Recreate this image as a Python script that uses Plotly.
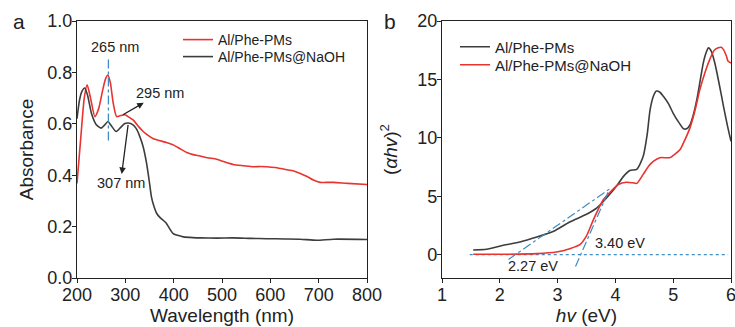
import plotly.graph_objects as go

# ---------- Panel a: UV-vis absorbance ----------
wl_red = [200, 208, 215, 221, 228, 237, 245, 253, 259, 264, 269, 275, 282, 290, 299, 308, 316, 327, 337, 347, 358,
          370, 385, 399, 413, 427, 440, 454, 470, 489, 505, 523, 545, 565, 580, 592, 610, 627, 645, 662, 676, 689, 703,
          715, 731, 760, 800]
abs_red = [0.368, 0.55, 0.70, 0.752, 0.70, 0.628, 0.66, 0.73, 0.775, 0.79, 0.76, 0.68, 0.628, 0.632, 0.635, 0.625,
           0.615, 0.59, 0.57, 0.555, 0.542, 0.535, 0.527, 0.518, 0.503, 0.488, 0.48, 0.475, 0.468, 0.462, 0.452, 0.442,
           0.437, 0.433, 0.434, 0.433, 0.43, 0.424, 0.418, 0.407, 0.395, 0.381, 0.372, 0.372, 0.372, 0.368, 0.364]

wl_blk = [200, 205, 210, 216, 222, 230, 240, 250, 257, 264, 270, 281, 290, 298, 306, 316, 323, 330, 337, 344, 350,
          354, 359, 365, 372, 378, 384, 389, 394, 399, 410, 420, 440, 454, 490, 523, 560, 592, 630, 662, 696, 731, 800]
abs_blk = [0.62, 0.69, 0.725, 0.739, 0.71, 0.64, 0.596, 0.583, 0.595, 0.609, 0.595, 0.57, 0.585, 0.6, 0.603, 0.596,
           0.58, 0.55, 0.51, 0.446, 0.37, 0.316, 0.28, 0.251, 0.235, 0.225, 0.215, 0.2, 0.185, 0.173, 0.165, 0.16,
           0.157, 0.156, 0.155, 0.156, 0.154, 0.153, 0.152, 0.151, 0.147, 0.151, 0.15]

# ---------- Panel b: Tauc plot ----------
hv_blk = [1.54, 1.77, 2.06, 2.35, 2.64, 2.93, 3.21, 3.5, 3.68, 3.85, 4.02, 4.14, 4.25, 4.37, 4.48, 4.55, 4.6, 4.66,
          4.71, 4.77, 4.83, 4.92, 5.0, 5.1, 5.18, 5.24, 5.29, 5.35, 5.41, 5.47, 5.52, 5.57, 5.61, 5.66, 5.72, 5.8,
          5.87, 5.94, 6.0]
ahv_blk = [0.4, 0.46, 0.8, 1.08, 1.5, 2.0, 2.8, 3.45, 4.0, 4.87, 5.87, 6.7, 7.2, 7.3, 8.4, 10.3, 12.4, 13.6, 14.0,
           13.9, 13.55, 12.9, 12.1, 11.3, 10.77, 10.8, 11.1, 12.0, 13.3, 15.0, 16.4, 17.3, 17.7, 17.4, 16.4, 14.5,
           12.7, 11.0, 9.7]

hv_red = [1.54, 2.06, 2.64, 2.98, 3.21, 3.39, 3.5, 3.62, 3.79, 3.91, 4.05, 4.19, 4.3, 4.37, 4.48, 4.58, 4.66, 4.77,
          4.94, 5.03, 5.12, 5.2, 5.29, 5.38, 5.46, 5.55, 5.64, 5.71, 5.78, 5.83, 5.87, 5.92, 5.95, 6.0]
ahv_red = [0.03, 0.03, 0.09, 0.23, 0.51, 0.88, 1.6, 3.0, 4.7, 5.35, 6.0, 6.2, 6.15, 6.1, 6.87, 7.6, 8.0, 8.3, 8.3,
           8.6, 9.0, 9.8, 10.85, 12.4, 14.1, 15.6, 16.8, 17.5, 17.7, 17.75, 17.55, 17.0, 16.55, 16.4]

tan1_x = [2.15, 3.9]
tan2_x = [3.31, 3.88]
eg1, slope1 = 2.27, 3.45
eg2, slope2 = 3.40, 11.3
base_x = [1.48, 5.95]
base_y = [0, 0]

RED = "#e8332f"
BLK = "#3d3d3d"
BLUE = "#3f8cc6"
FONT = "Liberation Sans, Arial, sans-serif"

W, H = 735, 327
ML, MR, MT, MB = 77, 4, 21, 49
PW, PH = W - ML - MR, H - MT - MB


def px_x(p):
    return (p - ML) / PW


def px_y(p):
    return 1 - (p - MT) / PH


fig = go.Figure()

fig.add_trace(go.Scatter(x=wl_red, y=abs_red, mode="lines", name="Al/Phe-PMs",
                         line=dict(color=RED, width=1.6, shape="spline", smoothing=0.6),
                         xaxis="x", yaxis="y", legend="legend"))
fig.add_trace(go.Scatter(x=wl_blk, y=abs_blk, mode="lines", name="Al/Phe-PMs@NaOH",
                         line=dict(color=BLK, width=1.6, shape="spline", smoothing=0.6),
                         xaxis="x", yaxis="y", legend="legend2"))
fig.add_trace(go.Scatter(x=[265, 265], y=[0.85, 0.53], mode="lines", showlegend=False,
                         line=dict(color=BLUE, width=1.3, dash="dashdot"), xaxis="x", yaxis="y"))

fig.add_trace(go.Scatter(x=base_x, y=base_y, mode="lines", showlegend=False,
                         line=dict(color=BLUE, width=1.3, dash="dot"), xaxis="x2", yaxis="y2"))
fig.add_trace(go.Scatter(x=hv_blk, y=ahv_blk, mode="lines", name="Al/Phe-PMs",
                         line=dict(color=BLK, width=1.6, shape="spline", smoothing=0.6),
                         xaxis="x2", yaxis="y2", legend="legend3"))
fig.add_trace(go.Scatter(x=hv_red, y=ahv_red, mode="lines", name="Al/Phe-PMs@NaOH",
                         line=dict(color=RED, width=1.6, shape="spline", smoothing=0.6),
                         xaxis="x2", yaxis="y2", legend="legend4"))
fig.add_trace(go.Scatter(x=tan1_x, y=[slope1 * (v - eg1) for v in tan1_x], mode="lines", showlegend=False,
                         line=dict(color=BLUE, width=1.2, dash="dashdot"), xaxis="x2", yaxis="y2"))
fig.add_trace(go.Scatter(x=tan2_x, y=[slope2 * (v - eg2) for v in tan2_x], mode="lines", showlegend=False,
                         line=dict(color=BLUE, width=1.2, dash="dashdot"), xaxis="x2", yaxis="y2"))

axis_common = dict(showline=True, linecolor="#222", linewidth=1.3, mirror=True, ticks="outside",
                   ticklen=4, tickwidth=1.2, tickcolor="#222", showgrid=False, zeroline=False, automargin=False,
                   ticklabeloverflow="allow", tickfont=dict(family=FONT, size=18, color="#222"))
xax = dict(axis_common, ticklabelstandoff=-4)
yax = dict(axis_common, ticklabelstandoff=-4)


def leg(xpx, ypx, size):
    return dict(x=px_x(xpx), y=px_y(ypx), xanchor="left", yanchor="middle", bgcolor="rgba(0,0,0,0)",
                font=dict(family=FONT, size=size, color="#222"))


fig.update_layout(
    width=W, height=H, margin=dict(l=ML, r=MR, t=MT, b=MB, autoexpand=False),
    paper_bgcolor="white", plot_bgcolor="white",
    font=dict(family=FONT, color="#222"),
    xaxis=dict(domain=[0, px_x(367)], range=[200, 800], tickvals=[200, 300, 400, 500, 600, 700, 800],
               title=dict(text="Wavelength (nm)", font=dict(size=19), standoff=1), anchor="y", **xax),
    yaxis=dict(domain=[0, 1], range=[0, 1.0], tickvals=[0, 0.2, 0.4, 0.6, 0.8, 1.0],
               tickformat=".1f", title=dict(text="Absorbance", font=dict(size=19), standoff=8),
               anchor="x", **yax),
    xaxis2=dict(domain=[px_x(442), 1], range=[1, 6], tickvals=[1, 2, 3, 4, 5, 6],
                title=dict(text="<i>hv</i> (eV)", font=dict(size=19), standoff=1), anchor="y2", **xax),
    yaxis2=dict(domain=[0, 1], range=[-2, 20], tickvals=[0, 5, 10, 15, 20],
                title=dict(text="(<i>αhv</i>)<sup>2</sup>", font=dict(size=19), standoff=14),
                anchor="x2", **yax),
    legend=leg(178, 40, 14),
    legend2=leg(178, 57, 14),
    legend3=leg(455, 47, 15),
    legend4=leg(455, 65, 15),
)

ann_font = dict(family=FONT, size=14.5, color="#222")
fig.add_annotation(x=279.5, y=0.90, xref="x", yref="y", text="265 nm", showarrow=False, font=ann_font)
fig.add_annotation(x=295, y=0.635, ax=371.8, ay=0.719, xref="x", yref="y", axref="x", ayref="y",
                   text="295 nm", font=ann_font, showarrow=True, arrowside="start", arrowhead=2,
                   startarrowhead=2, startarrowsize=1, arrowwidth=1.3, arrowcolor="#222")
fig.add_annotation(x=305.7, y=0.596, ax=290, ay=0.368, xref="x", yref="y", axref="x", ayref="y",
                   text="307 nm", font=ann_font, showarrow=True, arrowside="start", arrowhead=2,
                   startarrowhead=2, startarrowsize=1, arrowwidth=1.3, arrowcolor="#222")
fig.add_annotation(x=2.57, y=-1.0, xref="x2", yref="y2", text="2.27 eV", showarrow=False, font=ann_font)
fig.add_annotation(x=4.08, y=1.0, xref="x2", yref="y2", text="3.40 eV", showarrow=False, font=ann_font)

fig.add_annotation(x=px_x(19), y=px_y(21), xref="paper", yref="paper", text="a", showarrow=False,
                   xanchor="center", yanchor="middle", font=dict(family=FONT, size=21, color="#222"))
fig.add_annotation(x=px_x(390), y=px_y(21), xref="paper", yref="paper", text="b", showarrow=False,
                   xanchor="center", yanchor="middle", font=dict(family=FONT, size=21, color="#222"))

fig.write_html("out.html")
